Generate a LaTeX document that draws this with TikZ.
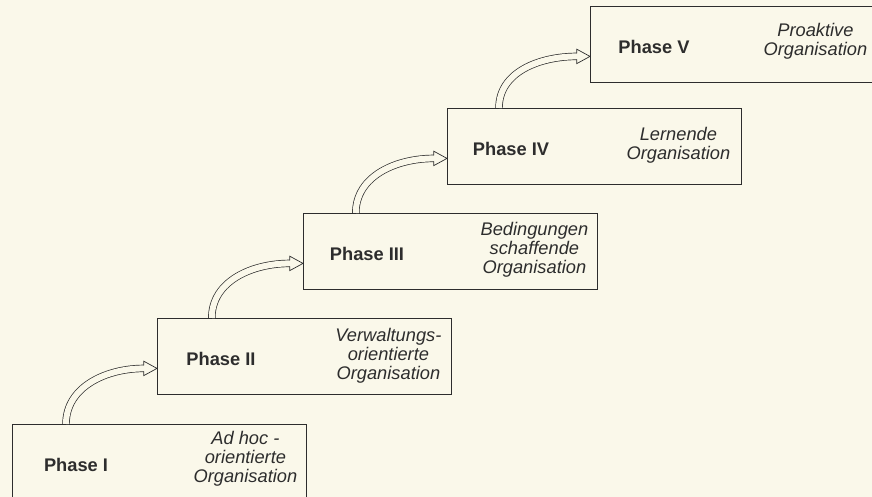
\documentclass[tikz,border=0pt]{standalone}
\usepackage{fontspec}
\setsansfont{Liberation Sans}
\usepackage{tikz}
\usepackage{xcolor}
\usetikzlibrary{positioning,calc}

\definecolor{paper}{RGB}{250,248,234}
\definecolor{ink}{RGB}{45,45,45}

\tikzset{
  stepbox/.style={draw=ink,line width=0.6pt,minimum width=7.35cm,minimum height=1.9cm,anchor=north west,inner sep=0pt},
  phaselbl/.style={font=\sffamily\bfseries\fontsize{13}{13.5}\selectfont,text=ink},
  desctxt/.style={font=\sffamily\itshape\fontsize{13}{13.5}\selectfont,text=ink,align=center},
  shaft/.style={draw=ink,line width=0.5pt,double=paper,double distance=0.15cm},
  headline/.style={draw=ink,line width=0.5pt,fill=paper,line join=miter}
}

\begin{document}
\begin{tikzpicture}[x=1cm,y=1cm]
\clip (0,0) rectangle (21.8,12.425);
\fill[paper] (0,0) rectangle (21.8,12.425);

% the five steps
\node[stepbox] (b1) at (0.30,1.825) {};
\node[stepbox] (b2) at (3.925,4.475) {};
\node[stepbox] (b3) at (7.575,7.10) {};
\node[stepbox] (b4) at (11.175,9.725) {};
\node[stepbox] (b5) at (14.75,12.275) {};

\node[phaselbl] (p1) at ([xshift=1.6cm,yshift=-0.06cm]b1.west) {Phase I};
\node[phaselbl] (p2) at ([xshift=1.6cm,yshift=-0.06cm]b2.west) {Phase II};
\node[phaselbl] (p3) at ([xshift=1.6cm,yshift=-0.06cm]b3.west) {Phase III};
\node[phaselbl] (p4) at ([xshift=1.6cm,yshift=-0.06cm]b4.west) {Phase IV};
\node[phaselbl] (p5) at ([xshift=1.6cm,yshift=-0.06cm]b5.west) {Phase V};

\node[desctxt] (d1) at ([xshift=2.15cm,yshift=0.1cm]b1.center) {Ad hoc -\\orientierte\\Organisation};
\node[desctxt] (d2) at ([xshift=2.1cm,yshift=0.02cm]b2.center) {Verwaltungs-\\orientierte\\Organisation};
\node[desctxt] (d3) at ([xshift=2.1cm,yshift=0.05cm]b3.center) {Bedingungen\\schaffende\\Organisation};
\node[desctxt] (d4) at ([xshift=2.1cm,yshift=0.02cm]b4.center) {Lernende\\Organisation};
\node[desctxt] (d5) at ([xshift=1.95cm,yshift=0.08cm]b5.center) {Proaktive\\Organisation};

% arrows between the steps
\coordinate (t2) at ([yshift=-0.3cm]b2.west);
\coordinate (t3) at ([yshift=-0.3cm]b3.west);
\coordinate (t4) at ([yshift=-0.3cm]b4.west);
\coordinate (t5) at ([yshift=-0.3cm]b5.west);

\draw[shaft] ([xshift=1.35cm]b1.north west) to[out=90,in=180] ([xshift=-0.33cm]t2);
\draw[shaft] ([xshift=1.37cm]b2.north west) to[out=90,in=180] ([xshift=-0.33cm]t3);
\draw[shaft] ([xshift=1.32cm]b3.north west) to[out=90,in=180] ([xshift=-0.33cm]t4);
\draw[shaft] ([xshift=1.3cm]b4.north west) to[out=90,in=180] ([xshift=-0.33cm]t5);

\draw[headline] ([shift={(-0.33cm,0.075cm)}]t2) -- ++(0,0.105cm) -- (t2) -- ([shift={(-0.33cm,-0.18cm)}]t2) -- ++(0,0.105cm);
\draw[headline] ([shift={(-0.33cm,0.075cm)}]t3) -- ++(0,0.105cm) -- (t3) -- ([shift={(-0.33cm,-0.18cm)}]t3) -- ++(0,0.105cm);
\draw[headline] ([shift={(-0.33cm,0.075cm)}]t4) -- ++(0,0.105cm) -- (t4) -- ([shift={(-0.33cm,-0.18cm)}]t4) -- ++(0,0.105cm);
\draw[headline] ([shift={(-0.33cm,0.075cm)}]t5) -- ++(0,0.105cm) -- (t5) -- ([shift={(-0.33cm,-0.18cm)}]t5) -- ++(0,0.105cm);
\end{tikzpicture}
\end{document}
